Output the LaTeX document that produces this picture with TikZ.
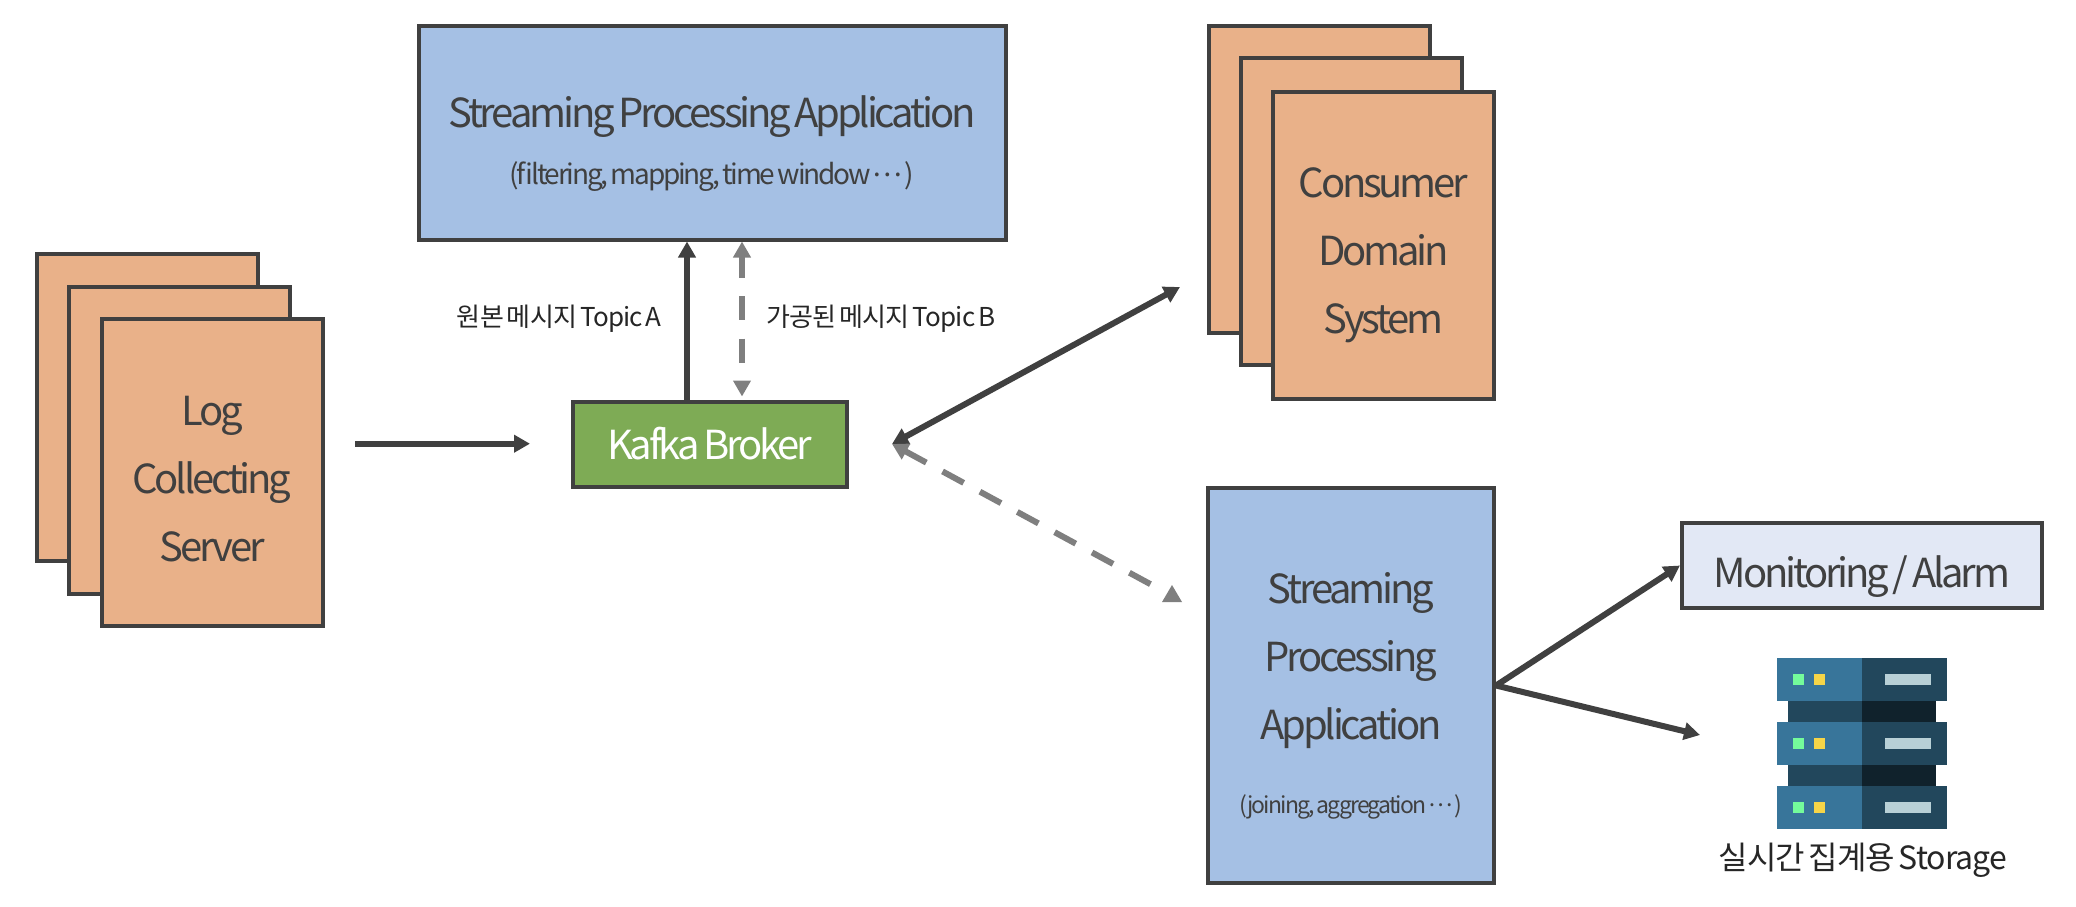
\documentclass[tikz,border=0pt]{standalone}
\usepackage{fontspec}
\setmainfont{Noto Sans CJK KR}[LetterSpace=-8.0,WordSpace=0.6]
\newfontfamily\capfont{Noto Sans CJK KR}[LetterSpace=-3.0,WordSpace=0.6]
\usetikzlibrary{arrows.meta}
\definecolor{linegray}{HTML}{404040}
\definecolor{dashgray}{HTML}{7F7F7F}
\definecolor{cardfill}{HTML}{E9B189}
\definecolor{appfill}{HTML}{A5C0E4}
\definecolor{brokerfill}{HTML}{7EAB55}
\definecolor{alarmfill}{HTML}{E2E8F5}
\definecolor{rackblue}{HTML}{38759A}
\definecolor{rackdark}{HTML}{22475C}
\definecolor{racknight}{HTML}{10222C}
\definecolor{ledgreen}{HTML}{74FB9B}
\definecolor{ledyellow}{HTML}{F6D548}
\definecolor{ledbar}{HTML}{B8D0D6}
\newcommand{\pushdown}[1]{\rule{0pt}{#1}}
\newcommand{\middots}{\raisebox{0.28em}{⋯}}
\tikzset{
  boxed/.style={draw=linegray, line width=4pt, text=linegray, align=center, inner sep=0pt},
  cardbox/.style={boxed, fill=cardfill, minimum width=221pt, minimum height=307pt, font=\fontsize{40}{68}\selectfont},
  flow/.style={draw=linegray, line width=6pt, -{Triangle[length=16pt,width=17pt]}},
  flowboth/.style={flow, {Triangle[length=16pt,width=17pt]}-{Triangle[length=16pt,width=17pt]}},
  dashflow/.style={draw=dashgray, line width=6pt, dash pattern=on 24pt off 18.5pt},
  caption/.style={text=black!85, inner sep=0pt, font=\capfont\fontsize{26}{30}\selectfont}
}
\begin{document}
\begin{tikzpicture}[x=1pt,y=-1pt]
  \useasboundingbox (0,0) rectangle (2076,906);
  % log servers
  \node[cardbox] (logBack) at (147,407.5) {};
  \node[cardbox] (logMid) at (179,440.5) {};
  \node[cardbox] (logFront) at (212,472.5) {\pushdown{43pt}Log\\Collecting\\Server};
  % consumers
  \node[cardbox] (consBack) at (1319,179.5) {};
  \node[cardbox] (consMid) at (1351.5,211.5) {};
  \node[cardbox] (consFront) at (1383.5,245) {\pushdown{51pt}Consumer\\Domain\\System};
  % applications and broker
  \node[boxed, fill=appfill, minimum width=587pt, minimum height=214pt, font=\fontsize{40}{57}\selectfont] (topApp) at (712,132.5)
    {\pushdown{54pt}Streaming Processing Application\\{\fontsize{28}{57}\selectfont (filtering, mapping, time window \middots{} )}};
  \node[boxed, fill=brokerfill, text=white, minimum width=274pt, minimum height=85pt, font=\fontsize{40}{46}\selectfont] (kafka) at (709.5,444) {Kafka Broker};
  \node[boxed, fill=appfill, minimum width=286pt, minimum height=395pt, font=\fontsize{40}{68}\selectfont] (streamApp) at (1351,685.5)
    {\pushdown{51pt}Streaming\\Processing\\Application\\[6pt]{\fontsize{23}{57}\selectfont (joining, aggregation \middots{} )}};
  \node[boxed, fill=alarmfill, minimum width=360pt, minimum height=85pt, font=\fontsize{40}{46}\selectfont] (alarm) at (1862,565.5) {\pushdown{54pt}Monitoring / Alarm};
  % storage icon
  \foreach \rowy in {658,722,786}{
    \fill[rackblue] (1777,\rowy) rectangle (1862,\rowy+43);
    \fill[rackdark] (1862,\rowy) rectangle (1947,\rowy+43);
    \fill[ledgreen] (1793,\rowy+16) rectangle (1804,\rowy+27);
    \fill[ledyellow] (1814,\rowy+16) rectangle (1825,\rowy+27);
    \fill[ledbar] (1885,\rowy+16) rectangle (1931,\rowy+27);
  }
  \foreach \rowy in {701,765}{
    \fill[rackdark] (1788,\rowy) rectangle (1862,\rowy+21);
    \fill[racknight] (1862,\rowy) rectangle (1936,\rowy+21);
  }
  \node[caption, font=\capfont\fontsize{32}{38}\selectfont] (storage) at (1863,860.5) {실시간 집계용 Storage};
  % labels
  \node[caption, anchor=east] (topicA) at (662,319) {원본 메시지 Topic A};
  \node[caption, anchor=west] (topicB) at (766,319) {가공된 메시지 Topic B};
  % free ends
  \coordinate (logOut) at (355,443.7);
  \coordinate (kafkaIn) at (530,443.7);
  \coordinate (kafkaPort) at (892,444);
  \coordinate (consIn) at (1180,287);
  \coordinate (streamDash) at (1152,585);
  \coordinate (upA) at (687,0);
  \coordinate (upB) at (742,0);
  \coordinate (storageIn) at (1700,735);
  % arrows
  \draw[flow] (logOut) -- (kafkaIn);
  \draw[flow] (kafka.north -| upA) -- (topApp.south -| upA);
  \draw[dashflow, dash phase=3pt, {Triangle[length=16pt,width=17pt]}-{Triangle[length=16pt,width=17pt]}] (topApp.south -| upB) -- ([yshift=3pt]kafka.north -| upB);
  \draw[flowboth] (kafkaPort) -- (consIn);
  \draw[dashflow, {Triangle[length=16pt,width=17pt]}-] (kafkaPort) -- (streamDash);
  \fill[dashgray] (1172,585) -- (1182,602) -- (1162,602) -- cycle;
  \draw[flow] (streamApp.east) -- (alarm.west);
  \draw[flow] (streamApp.east) -- (storageIn);
\end{tikzpicture}
\end{document}
